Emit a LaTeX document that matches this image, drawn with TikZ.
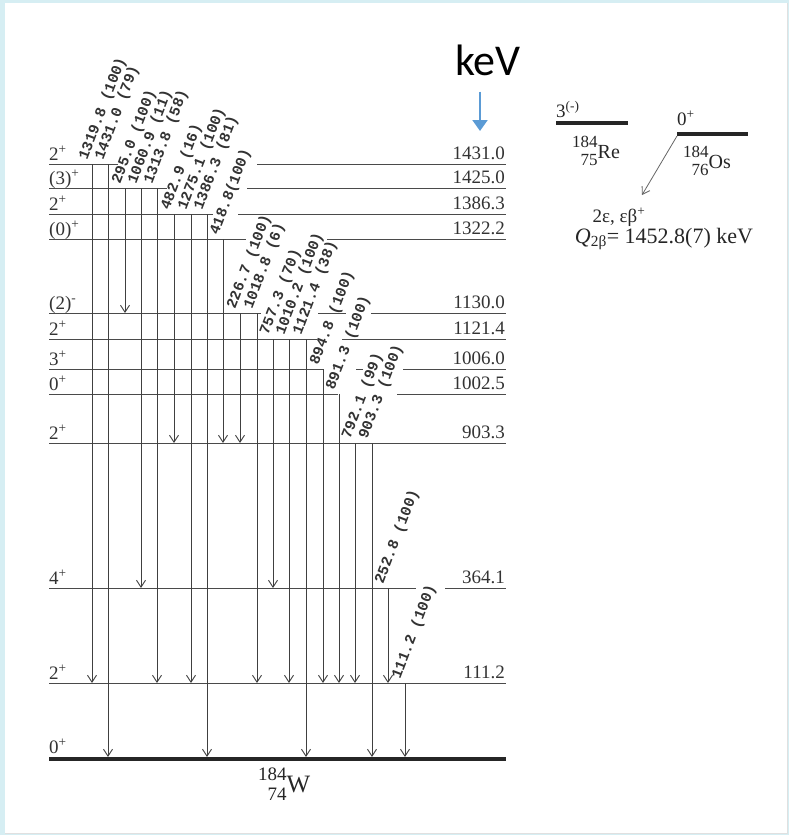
\documentclass[tikz,border=0pt]{standalone}
\usepackage{fontspec}
\setmainfont{Liberation Serif}
\setmonofont{Liberation Mono}
\newfontfamily\calibri{Carlito}
\usetikzlibrary{arrows.meta}
\definecolor{frame}{HTML}{D6EEF3}
\definecolor{keyblue}{HTML}{5B9BD5}
\definecolor{lvlgray}{HTML}{4A4A4A}
% mass number over charge number, both right aligned to the element
\newcommand{\nuc}[4][17]{{\fontsize{#1}{#1}\selectfont\raisebox{.62em}{#2}\llap{\raisebox{-.45em}{#3}}}#4}

\begin{document}
\begin{tikzpicture}[x=1pt,y=-1pt,
      lvl/.style={draw=lvlgray,line width=1pt},
      gs/.style={draw=black!85,line width=4pt},
      gam/.style={draw=black!75,line width=0.9pt,-{Straight Barb[length=7pt,width=9pt]}},
      glab/.style={xshift=-5pt,yshift=3pt,rotate=69,anchor=base west,inner sep=0pt,text=black!80,font=\ttfamily\bfseries\fontsize{15}{15}\selectfont},
      spin/.style={anchor=base west,inner sep=0pt,text=black!80,font=\fontsize{19}{19}\selectfont},
      en/.style={anchor=base east,inner sep=0pt,text=black!80,font=\fontsize{19}{19}\selectfont},
      nucl/.style={anchor=base west,inner sep=0pt,text=black!85,font=\fontsize{20}{20}\selectfont},
      decay/.style={draw=black!60,line width=0.8pt,-{Straight Barb[length=7pt,width=9pt]}},
      keyarr/.style={draw=keyblue,line width=2pt,-{Triangle[length=11pt,width=15pt]},shorten <=16pt}
    ]
  \useasboundingbox (0,0) rectangle (789,835);
  \fill[frame] (0,0) rectangle (789,835);
  \fill[white] (5,3) rectangle (787,833);
  \draw[black!12] (787,3) -- (787,833) -- (5,833);

  % levels of 184W
  \coordinate (L1431) at (0,164);
  \coordinate (L1425) at (0,188);
  \coordinate (L1386) at (0,214);
  \coordinate (L1322) at (0,239);
  \coordinate (L1130) at (0,313);
  \coordinate (L1121) at (0,339);
  \coordinate (L1006) at (0,369);
  \coordinate (L1002) at (0,394);
  \coordinate (L903) at (0,443);
  \coordinate (L364) at (0,588);
  \coordinate (L111) at (0,683);
  \coordinate (L0) at (0,757);

  \draw[lvl] (49,164) -- (118,164) (257,164) -- (506,164);
  \draw[lvl] (49,188) -- (167,188) (247,188) -- (506,188);
  \draw[lvl] (49,214) -- (213,214) (238,214) -- (506,214);
  \draw[lvl] (49,239) -- (246,239) (327,239) -- (506,239);
  \draw[lvl] (49,313) -- (261,313) (318,313) -- (346,313) (371,313) -- (506,313);
  \draw[lvl] (49,339) -- (317,339) (342,339) -- (506,339);
  \draw[lvl] (49,369) -- (323,369) (356,369) -- (363,369) (403,369) -- (506,369);
  \draw[lvl] (49,394) -- (338,394) (397,394) -- (506,394);
  \draw[lvl] (49,443) -- (506,443);
  \draw[lvl] (49,588) -- (416,588) (445,588) -- (506,588);
  \draw[lvl] (49,683) -- (506,683);
  \draw[gs] (49,759) -- (506,759);

  \node[spin] (s1431) at (49,160) {2\textsuperscript{+}};
  \node[spin] (s1425) at (49,184) {(3)\textsuperscript{+}};
  \node[spin] (s1386) at (49,210) {2\textsuperscript{+}};
  \node[spin] (s1322) at (49,235) {(0)\textsuperscript{+}};
  \node[spin] (s1130) at (49,309) {(2)\textsuperscript{-}};
  \node[spin] (s1121) at (49,335) {2\textsuperscript{+}};
  \node[spin] (s1006) at (49,365) {3\textsuperscript{+}};
  \node[spin] (s1002) at (49,390) {0\textsuperscript{+}};
  \node[spin] (s903) at (49,439) {2\textsuperscript{+}};
  \node[spin] (s364) at (49,584) {4\textsuperscript{+}};
  \node[spin] (s111) at (49,679) {2\textsuperscript{+}};
  \node[spin] (s0) at (49,753) {0\textsuperscript{+}};

  \node[en] (e1431) at (505,159) {1431.0};
  \node[en] (e1425) at (505,183) {1425.0};
  \node[en] (e1386) at (505,209) {1386.3};
  \node[en] (e1322) at (505,234) {1322.2};
  \node[en] (e1130) at (505,308) {1130.0};
  \node[en] (e1121) at (505,334) {1121.4};
  \node[en] (e1006) at (505,364) {1006.0};
  \node[en] (e1002) at (505,389) {1002.5};
  \node[en] (e903) at (505,438) {903.3};
  \node[en] (e364) at (505,583) {364.1};
  \node[en] (e111) at (505,678) {111.2};

  % gamma transitions
  \draw[gam] (92,0 |- L1431) node[glab] {1319.8 (100)} -- (92,0 |- L111);
  \draw[gam] (108,0 |- L1431) node[glab] {1431.0 (79)} -- (108,0 |- L0);
  \draw[gam] (125,0 |- L1425) node[glab] {295.0 (100)} -- (125,0 |- L1130);
  \draw[gam] (141,0 |- L1425) node[glab] {1060.9 (11)} -- (141,0 |- L364);
  \draw[gam] (157,0 |- L1425) node[glab] {1313.8 (58)} -- (157,0 |- L111);
  \draw[gam] (174,0 |- L1386) node[glab] {482.9 (16)} -- (174,0 |- L903);
  \draw[gam] (191,0 |- L1386) node[glab] {1275.1 (100)} -- (191,0 |- L111);
  \draw[gam] (207,0 |- L1386) node[glab] {1386.3 (81)} -- (207,0 |- L0);
  \draw[gam] (223,0 |- L1322) node[glab] {418.8(100)} -- (223,0 |- L903);
  \draw[gam] (240,0 |- L1130) node[glab] {226.7 (100)} -- (240,0 |- L903);
  \draw[gam] (257,0 |- L1130) node[glab] {1018.8 (6)} -- (257,0 |- L111);
  \draw[gam] (273,0 |- L1121) node[glab] {757.3 (70)} -- (273,0 |- L364);
  \draw[gam] (289,0 |- L1121) node[glab] {1010.2 (100)} -- (289,0 |- L111);
  \draw[gam] (306,0 |- L1121) node[glab] {1121.4 (38)} -- (306,0 |- L0);
  \draw[gam] (323,0 |- L1006) node[glab] {894.8 (100)} -- (323,0 |- L111);
  \draw[gam] (339,0 |- L1002) node[glab] {891.3 (100)} -- (339,0 |- L111);
  \draw[gam] (355,0 |- L903) node[glab] {792.1 (99)} -- (355,0 |- L111);
  \draw[gam] (372,0 |- L903) node[glab] {903.3 (100)} -- (372,0 |- L0);
  \draw[gam] (388,0 |- L364) node[glab] {252.8 (100)} -- (388,0 |- L111);
  \draw[gam] (405,0 |- L111) node[glab] {111.2 (100)} -- (405,0 |- L0);

  \node[nucl,font=\fontsize{25}{25}\selectfont] (w184) at (258,792) {\nuc[19]{184}{74}{W}};

  % parent nuclei
  \draw[gs] (556,123) -- (628,123);
  \node[nucl,font=\fontsize{19}{19}\selectfont] (re3) at (556,117) {3\textsuperscript{(-)}};
  \node[nucl] (re184) at (572,158) {\nuc{184}{75}{Re}};
  \draw[gs] (677,134) -- (748,134);
  \node[nucl,font=\fontsize{19}{19}\selectfont] (os0) at (677,125) {0\textsuperscript{+}};
  \node[nucl] (os184) at (683,168) {\nuc{184}{76}{Os}};

  \node[nucl,anchor=base,font=\fontsize{19}{19}\selectfont] (mode) at (619,222) {2ε, εβ\textsuperscript{+}};
  \node[nucl,anchor=base,font=\fontsize{22}{22}\selectfont] (qval) at (664,243) {{\itshape Q}\textsubscript{2β}= 1452.8(7) keV};
  \coordinate (osl) at (677,136);
  \coordinate (dk) at (642,195);
  \draw[decay] (osl) -- (dk);

  % unit marker
  \node[anchor=base,inner sep=0pt,font=\calibri\fontsize{44}{44}\selectfont] (kev) at (488,75) {keV};
  \coordinate (kevtip) at (480,131);
  \draw[keyarr] (kev.south -| kevtip) -- (kevtip);
\end{tikzpicture}
\end{document}
